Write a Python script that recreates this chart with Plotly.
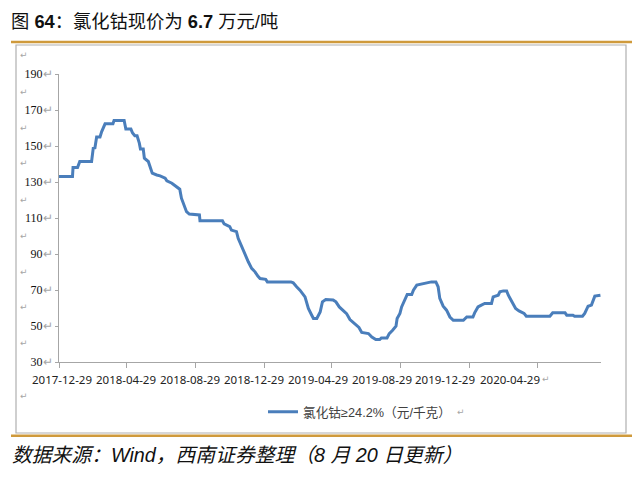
import plotly.graph_objects as go

# ---------------- data ----------------
dates = [
    "2017-12-29", "2018-01-22", "2018-01-23", "2018-01-31", "2018-02-04", "2018-02-25",
    "2018-02-28", "2018-03-03", "2018-03-06", "2018-03-12", "2018-03-15", "2018-03-21",
    "2018-04-04", "2018-04-06", "2018-04-24", "2018-04-27", "2018-05-06", "2018-05-09",
    "2018-05-13", "2018-05-17", "2018-05-21", "2018-05-23", "2018-05-28", "2018-05-30",
    "2018-06-06", "2018-06-09", "2018-06-13", "2018-06-21", "2018-06-27", "2018-07-06",
    "2018-07-09", "2018-07-18", "2018-07-27", "2018-08-01", "2018-08-04", "2018-08-09",
    "2018-08-13", "2018-08-18", "2018-08-28", "2018-09-05", "2018-09-06", "2018-10-16",
    "2018-10-19", "2018-10-29", "2018-11-01", "2018-11-10", "2018-11-13", "2018-11-19",
    "2018-11-25", "2018-12-01", "2018-12-07", "2018-12-13", "2018-12-18", "2018-12-22",
    "2019-01-01", "2019-01-04", "2019-02-15", "2019-02-19", "2019-02-25", "2019-03-03",
    "2019-03-12", "2019-03-18", "2019-03-24", "2019-03-27", "2019-04-02", "2019-04-08",
    "2019-04-12", "2019-04-18", "2019-05-01", "2019-05-06", "2019-05-12", "2019-05-19",
    "2019-05-25", "2019-05-31", "2019-06-09", "2019-06-16", "2019-06-21", "2019-07-03",
    "2019-07-09", "2019-07-16", "2019-07-23", "2019-07-26", "2019-08-05", "2019-08-09",
    "2019-08-15", "2019-08-21", "2019-08-23", "2019-08-28", "2019-08-31", "2019-09-06",
    "2019-09-10", "2019-09-18", "2019-09-21", "2019-09-27", "2019-10-08", "2019-10-14",
    "2019-10-23", "2019-10-31", "2019-11-04", "2019-11-07", "2019-11-13", "2019-11-19",
    "2019-11-25", "2019-12-01", "2019-12-19", "2019-12-25", "2020-01-05", "2020-01-08",
    "2020-01-14", "2020-01-20", "2020-01-26", "2020-02-07", "2020-02-10", "2020-02-19",
    "2020-02-22", "2020-02-28", "2020-03-05", "2020-03-08", "2020-03-14", "2020-03-21",
    "2020-03-27", "2020-04-05", "2020-04-09", "2020-05-21", "2020-05-26", "2020-06-17",
    "2020-06-20", "2020-07-01", "2020-07-04", "2020-07-18", "2020-07-22", "2020-07-28",
    "2020-08-03", "2020-08-09", "2020-08-19",
]
price = [
    133.0, 133.0, 138.0, 138.0, 141.4, 141.4,
    148.8, 149.0, 155.0, 155.0, 158.0, 162.3,
    162.3, 164.2, 164.2, 159.4, 159.4, 157.2,
    155.7, 155.7, 151.6, 148.3, 148.3, 143.2,
    141.4, 138.6, 134.9, 133.9, 133.4, 132.1,
    130.6, 129.3, 127.1, 126.0, 121.0, 116.3,
    113.5, 112.2, 111.7, 111.7, 108.5, 108.5,
    106.7, 105.2, 103.3, 102.4, 98.7, 94.0,
    90.4, 85.7, 82.0, 80.1, 77.7, 76.4,
    75.9, 74.5, 74.5, 74.0, 71.8, 69.9,
    66.2, 59.7, 56.0, 54.2, 54.2, 57.8,
    63.4, 64.7, 64.5, 63.4, 60.6, 58.8,
    56.9, 53.6, 51.4, 49.2, 46.4, 45.8,
    43.9, 42.5, 42.5, 43.4, 43.4, 45.8,
    47.6, 49.9, 54.2, 57.0, 60.6, 65.3,
    67.5, 67.5, 69.9, 72.7, 73.3, 73.7,
    74.5, 74.5, 71.8, 65.3, 61.0, 58.8,
    55.0, 53.2, 53.2, 55.0, 55.0, 57.3,
    60.6, 61.6, 62.5, 62.5, 66.2, 67.1,
    69.0, 69.5, 69.5, 67.1, 63.4, 59.7,
    58.4, 57.0, 55.4, 55.4, 57.3, 57.3,
    56.0, 56.0, 55.4, 55.4, 57.0, 61.0,
    61.6, 66.6, 67.1,
]
x_ticks = ["2017-12-29", "2018-04-29", "2018-08-29", "2018-12-29",
           "2019-04-29", "2019-08-29", "2019-12-29", "2020-04-29"]
y_ticks = [30, 50, 70, 90, 110, 130, 150, 170, 190]

series_name = "氯化钴≥24.2%（元/千克）"
title_text = "图 <b>64</b>：氯化钴现价为 <b>6.7</b> 万元/吨"
source_text = "<i>数据来源：Wind，西南证券整理（8 月 20 日更新）</i>"

# ---------------- layout helpers ----------------
W, H = 640, 477
ML, MR, MT, MB = 59, 39, 74, 115
PW, PH = W - ML - MR, H - MT - MB


def fx(px):
    return (px - ML) / PW


def fy(py):
    return (H - MB - py) / PH


CJK = "Liberation Sans, Noto Sans CJK SC, sans-serif"
MARK = "<span style='color:#a6a6a6'>↵</span>"
GREY = "#a6a6a6"

fig = go.Figure()
fig.add_trace(go.Scatter(
    x=dates, y=price, mode="lines", name=series_name,
    line=dict(color="#4a7ebb", width=3),
))

annotations = []
# title
annotations.append(dict(text=title_text, x=fx(9), y=fy(22), xref="paper", yref="paper",
                        xanchor="left", yanchor="middle", showarrow=False,
                        font=dict(family=CJK, size=18.3, color="#111111")))
# source
annotations.append(dict(text=source_text, x=fx(10), y=fy(455), xref="paper", yref="paper",
                        xanchor="left", yanchor="middle", showarrow=False,
                        font=dict(family=CJK, size=19.8, color="#111111")))
# x tick labels (as laid out in the original, slightly tighter than the ticks)
for i, lab in enumerate(x_ticks):
    annotations.append(dict(text=lab, x=fx(61.5 + 64 * i), y=fy(379), xref="paper", yref="paper",
                            xanchor="center", yanchor="middle", showarrow=False,
                            font=dict(family="Noto Sans, sans-serif", size=11.5, color="#222222")))
annotations.append(dict(text="↵", x=fx(540), y=fy(379), xref="paper", yref="paper",
                        xanchor="left", yanchor="middle", showarrow=False,
                        font=dict(family="DejaVu Sans", size=9, color=GREY)))
# paragraph marks down the left side
for py in [55.0, 91.7, 128.3, 163.3, 200.0, 235.7, 271.7, 307.3, 343.3, 395.7]:
    annotations.append(dict(text="↵", x=fx(18), y=fy(py), xref="paper", yref="paper",
                            xanchor="left", yanchor="middle", showarrow=False,
                            font=dict(family="DejaVu Sans", size=9, color=GREY)))
# legend trailing mark
annotations.append(dict(text="↵", x=fx(455), y=fy(412), xref="paper", yref="paper",
                        xanchor="left", yanchor="middle", showarrow=False,
                        font=dict(family="DejaVu Sans", size=9, color=GREY)))

shapes = [
    dict(type="line", xref="paper", yref="paper", x0=fx(11), x1=fx(632), y0=fy(42), y1=fy(42),
         line=dict(color="#cf9a3c", width=2.5)),
    dict(type="line", xref="paper", yref="paper", x0=fx(11), x1=fx(632), y0=fy(435.7), y1=fy(435.7),
         line=dict(color="#cf9a3c", width=2.5)),
    dict(type="rect", xref="paper", yref="paper", x0=fx(16), x1=fx(626), y0=fy(433), y1=fy(45),
         line=dict(color="#b0b0b0", width=1.2)),
]

fig.update_layout(
    width=W, height=H,
    margin=dict(l=ML, r=MR, t=MT, b=MB, autoexpand=False),
    paper_bgcolor="white", plot_bgcolor="white",
    showlegend=True,
    legend=dict(x=fx(263), y=fy(412), xanchor="left", yanchor="middle",
                orientation="h", font=dict(family=CJK, size=12.7, color="#404040"),
                bgcolor="rgba(0,0,0,0)", itemwidth=30),
    annotations=annotations,
    shapes=shapes,
    xaxis=dict(type="date", range=["2017-12-29", "2020-08-20"],
               tickvals=x_ticks, showticklabels=False, automargin=False,
               ticks="outside", ticklen=5, tickcolor=GREY,
               showline=True, linecolor=GREY, linewidth=1,
               showgrid=False, zeroline=False),
    yaxis=dict(range=[30, 190], tickvals=y_ticks, automargin=False,
               ticktext=[f"{v}{MARK}" for v in y_ticks],
               ticks="outside", ticklen=3, tickcolor=GREY,
               showline=True, linecolor=GREY, linewidth=1,
               showgrid=False, zeroline=False,
               tickfont=dict(family="Liberation Serif, serif", size=12, color="#111111")),
)

fig.write_html("out.html", config={"displayModeBar": False},
               post_script="document.body.style.margin='0';document.body.style.overflow='hidden';")
